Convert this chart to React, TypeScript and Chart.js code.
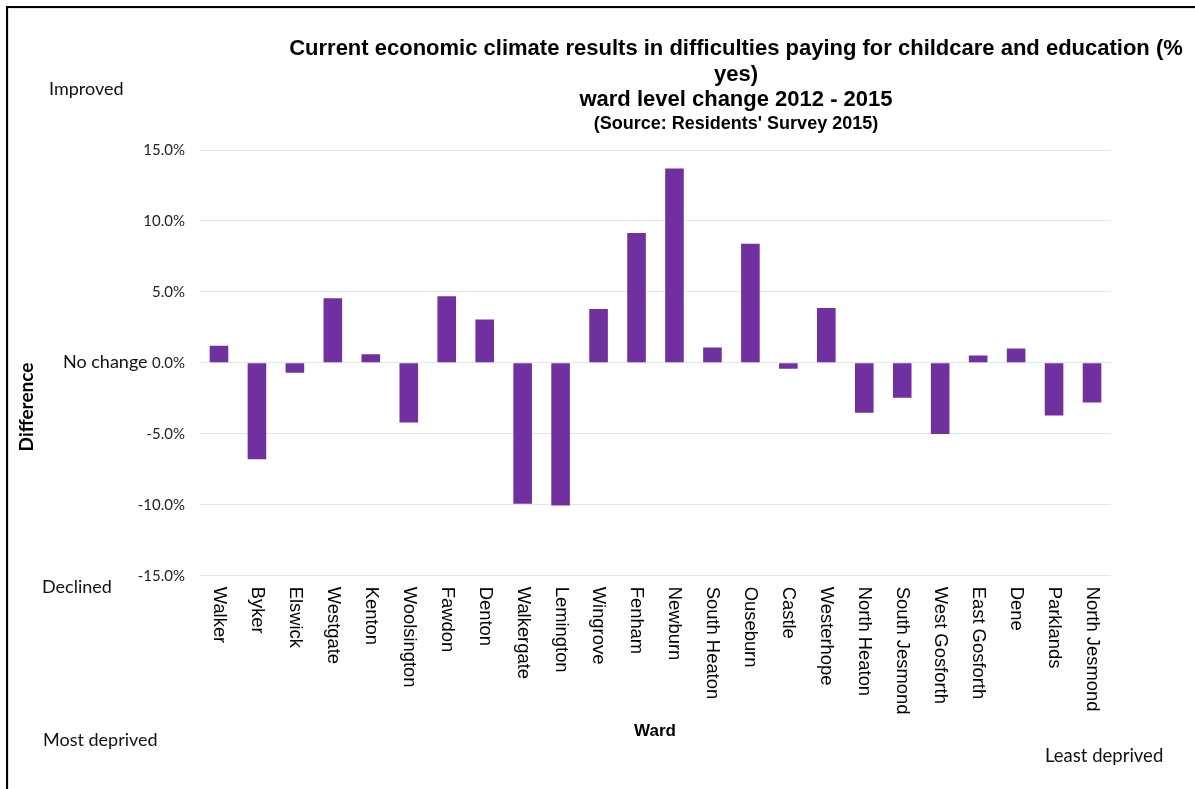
import React, { useEffect, useRef } from "react";
import { Chart, registerables } from "chart.js";

Chart.register(...registerables);

const wards = [
  "Walker", "Byker", "Elswick", "Westgate", "Kenton", "Woolsington", "Fawdon", "Denton",
  "Walkergate", "Lemington", "Wingrove", "Fenham", "Newburn", "South Heaton", "Ouseburn",
  "Castle", "Westerhope", "North Heaton", "South Jesmond", "West Gosforth", "East Gosforth",
  "Dene", "Parklands", "North Jesmond",
];
const differences = [
  1.2, -6.8, -0.7, 4.55, 0.6, -4.2, 4.7, 3.05,
  -9.93, -10.05, 3.8, 9.15, 13.7, 1.08, 8.4,
  -0.42, 3.87, -3.52, -2.46, -5.02, 0.52,
  1.01, -3.71, -2.79,
];
const yMin = -15;
const yMax = 15;
const yStep = 5;

const titleLines = [
  "Current economic climate results in difficulties paying for childcare and education (%",
  "yes)",
  "ward level change 2012 - 2015",
];
const sourceLine = "(Source: Residents' Survey 2015)";
const xAxisTitle = "Ward";
const yAxisTitle = "Difference";

const LABEL_FONT = '"Liberation Sans", Arial, sans-serif';
const CAL_FONT = 'Lato, "Open Sans", sans-serif';

const wardLabelsPlugin = {
  id: "wardLabels",
  afterDraw(chart: any) {
    const { ctx, chartArea } = chart;
    const x = chart.scales.x;
    ctx.save();
    ctx.font = `18.4px ${LABEL_FONT}`;
    ctx.fillStyle = "#000";
    ctx.textAlign = "left";
    ctx.textBaseline = "middle";
    wards.forEach((w, i) => {
      const px = x.getPixelForValue(i);
      ctx.save();
      ctx.translate(px, chartArea.bottom + 11);
      ctx.rotate(Math.PI / 2);
      ctx.fillText(w, 0, 0);
      ctx.restore();
    });
    ctx.restore();
  },
};

export default function App() {
  const canvasRef = useRef<HTMLCanvasElement | null>(null);

  useEffect(() => {
    if (!canvasRef.current) return;
    const chart = new Chart(canvasRef.current, {
      type: "bar",
      data: {
        labels: wards,
        datasets: [
          {
            data: differences,
            backgroundColor: "#7030a0",
            borderWidth: 0,
            barPercentage: 0.49,
            categoryPercentage: 1,
          },
        ],
      },
      options: {
        responsive: false,
        animation: false,
        layout: { padding: { left: 100, right: 84, top: 150, bottom: 0 } },
        plugins: {
          legend: { display: false },
          tooltip: { enabled: false },
          title: { display: false },
        },
        scales: {
          x: {
            grid: { display: false },
            border: { display: false },
            ticks: { display: false },
            afterFit: (scale: any) => {
              scale.height = 213.3;
            },
          },
          y: {
            min: yMin,
            max: yMax,
            border: { display: false },
            grid: { color: "#dce6f1", drawTicks: false, lineWidth: 1 },
            ticks: {
              stepSize: yStep,
              padding: 15,
              color: "#222",
              font: { family: CAL_FONT, size: 15 },
              callback: (v: any) => Number(v).toFixed(1) + "%",
            },
            afterFit: (scale: any) => {
              scale.width = 100;
            },
          },
        },
      },
      plugins: [wardLabelsPlugin],
    });
    return () => chart.destroy();
  }, []);

  const abs = (s: React.CSSProperties): React.CSSProperties => ({ position: "absolute", whiteSpace: "nowrap", ...s });

  return (
    <div style={{ position: "absolute", left: 0, top: 0, width: 1195, height: 789, background: "#fff", overflow: "hidden" }}>
      <div style={{ position: "absolute", left: 6, top: 6, right: 0, bottom: 0, borderLeft: "2px solid #000", borderTop: "2px solid #000" }}>
        <div style={{ position: "absolute", left: 0, top: 0, right: 0, bottom: 0, borderLeft: "1px solid #dce6f1", borderTop: "1px solid #dce6f1" }} />
      </div>
      <canvas ref={canvasRef} width={1195} height={789} style={{ position: "absolute", left: 0, top: 0, width: 1195, height: 789 }} />
      <div style={{ position: "absolute", left: 736, top: 35, transform: "translateX(-50%)", textAlign: "center", fontFamily: LABEL_FONT, fontWeight: "bold", color: "#000" }}>
        {titleLines.map((t, i) => (
          <div key={i} style={{ fontSize: 22, lineHeight: "25.5px", whiteSpace: "nowrap" }}>{t}</div>
        ))}
        <div style={{ fontSize: 18, lineHeight: "22px", whiteSpace: "nowrap" }}>{sourceLine}</div>
      </div>
      <div style={abs({ left: 49, top: 77, fontFamily: CAL_FONT, fontSize: 18, color: "#111" })}>Improved</div>
      <div style={abs({ left: 63, top: 350, fontFamily: CAL_FONT, fontSize: 18, color: "#111" })}>No change</div>
      <div style={abs({ left: 42, top: 575, fontFamily: CAL_FONT, fontSize: 18, color: "#111" })}>Declined</div>
      <div style={abs({ left: 43, top: 728, fontFamily: CAL_FONT, fontSize: 18, color: "#111" })}>Most deprived</div>
      <div style={abs({ left: 1045, top: 744, fontFamily: CAL_FONT, fontSize: 18.5, color: "#111" })}>Least deprived</div>
      <div style={abs({ left: 655, top: 731, transform: "translate(-50%, -50%)", fontFamily: LABEL_FONT, fontWeight: "bold", fontSize: 17, color: "#000" })}>{xAxisTitle}</div>
      <div style={abs({ left: 25, top: 407, transform: "translate(-50%, -50%) rotate(-90deg)", fontFamily: CAL_FONT, fontWeight: "bold", fontSize: 19, color: "#000" })}>{yAxisTitle}</div>
    </div>
  );
}
